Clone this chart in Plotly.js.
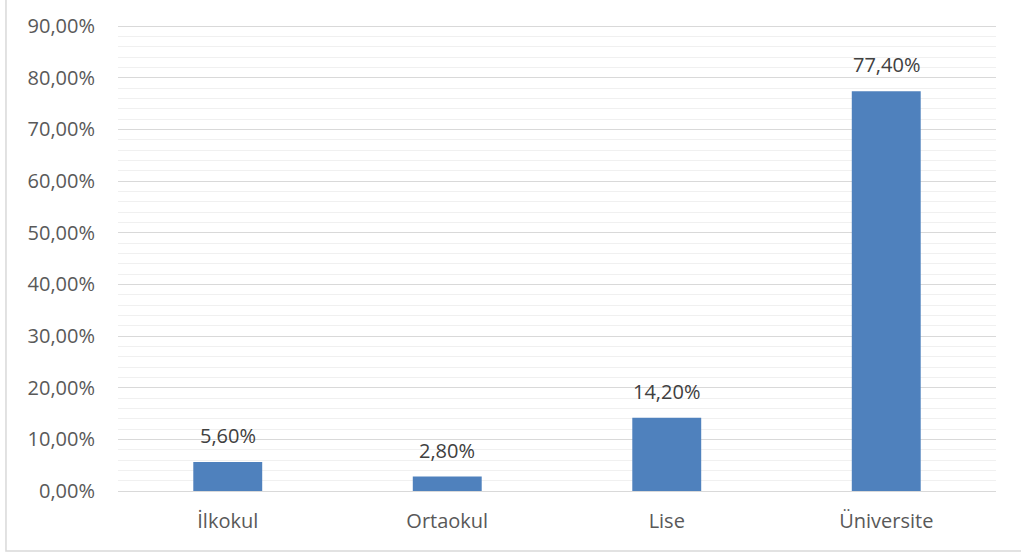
<!DOCTYPE html>
<html>
<head>
<meta charset="utf-8">
<script src="https://cdn.plot.ly/plotly-3.0.1.min.js"></script>
<style>html,body{margin:0;padding:0;background:#fff;}#chart{width:1021px;height:558px;}</style>
</head>
<body>
<div id="chart"></div>
<script>
const categories = ["İlkokul", "Ortaokul", "Lise", "Üniversite"];
const values = [5.6, 2.8, 14.2, 77.4];
const tickValues = [0, 10, 20, 30, 40, 50, 60, 70, 80, 90];

const fmt = v => v.toFixed(2).replace(".", ",") + "%";
const FONT = "Open Sans, Liberation Sans, sans-serif";

const trace = {
  type: "bar",
  x: categories,
  y: values,
  marker: {color: "#4f81bd"},
  hoverinfo: "skip"
};

const annotations = categories.map((c, i) => ({
  x: c, y: values[i], xref: "x", yref: "y",
  text: fmt(values[i]), showarrow: false,
  yanchor: "bottom", yshift: 11,
  font: {family: FONT, size: 20, color: "#404040"}
}));

const layout = {
  width: 1021, height: 558,
  margin: {l: 118, r: 25, t: 25, b: 67},
  separators: ",.",
  paper_bgcolor: "#fff",
  plot_bgcolor: "#fff",
  showlegend: false,
  bargap: 0.686,
  font: {family: FONT, size: 20, color: "#595959"},
  xaxis: {
    type: "category",
    showgrid: false,
    showline: true,
    linecolor: "#d9d9d9",
    linewidth: 1,
    ticks: "",
    tickfont: {family: FONT, size: 20, color: "#595959"},
    ticklabelstandoff: 12
  },
  yaxis: {
    range: [0, 90.2],
    tickmode: "array",
    tickvals: tickValues,
    ticktext: tickValues.map(fmt),
    showgrid: true,
    gridcolor: "#d9d9d9",
    gridwidth: 1,
    zeroline: false,
    showline: false,
    ticks: "",
    ticklabelstandoff: 22,
    tickfont: {family: FONT, size: 20, color: "#595959"},
    minor: {dtick: 2, showgrid: true, gridcolor: "#f0f0f0", gridwidth: 1}
  },
  annotations: annotations,
  shapes: [{
    type: "rect", xref: "paper", yref: "paper", layer: "below",
    x0: -0.1276, x1: 1.05, y0: -0.129, y1: 1.1,
    line: {color: "#d9d9d9", width: 1.5}, fillcolor: "rgba(0,0,0,0)"
  }]
};

Plotly.newPlot("chart", [trace], layout, {displayModeBar: false, staticPlot: true});
</script>
</body>
</html>
